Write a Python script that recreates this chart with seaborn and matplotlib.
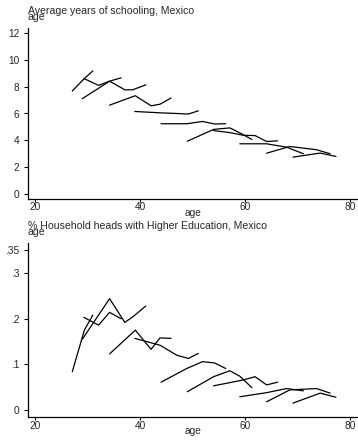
import matplotlib
matplotlib.use("Agg")
import matplotlib.pyplot as plt
import seaborn as sns
import pandas as pd

# Cohort profiles: mean age of each birth cohort at each survey and the outcome
cohort_ages = [
    [27.1, 29.4, 31.0],
    [29.3, 32.1, 34.2, 36.4],
    [29.0, 34.2, 37.1, 38.6, 41.1],
    [34.2, 39.1, 42.1, 43.8, 45.9],
    [39.0, 43.8, 47.0, 49.2, 51.1],
    [44.0, 48.9, 51.9, 54.2, 56.3],
    [49.0, 54.0, 57.1, 59.0, 61.3],
    [54.0, 57.1, 59.7, 61.9, 64.1, 66.2],
    [59.0, 64.1, 67.9, 71.1],
    [64.1, 68.5, 73.6, 76.2],
    [69.1, 74.3, 77.3],
]

schooling = [
    [7.67, 8.60, 9.16],
    [8.60, 8.09, 8.40, 8.65],
    [7.10, 8.40, 7.76, 7.76, 8.13],
    [6.62, 7.32, 6.57, 6.69, 7.15],
    [6.15, 6.05, 6.00, 5.96, 6.20],
    [5.24, 5.24, 5.41, 5.22, 5.24],
    [3.94, 4.82, 4.93, 4.56, 4.07],
    [4.73, 4.58, 4.38, 4.36, 3.92, 3.97],
    [3.75, 3.75, 3.50, 3.01],
    [3.05, 3.55, 3.31, 3.01],
    [2.76, 3.06, 2.81],
]

higher_ed = [
    [0.084, 0.175, 0.208],
    [0.203, 0.186, 0.214, 0.200],
    [0.155, 0.244, 0.192, 0.204, 0.228],
    [0.123, 0.175, 0.133, 0.158, 0.157],
    [0.157, 0.142, 0.120, 0.113, 0.124],
    [0.061, 0.091, 0.106, 0.103, 0.091],
    [0.040, 0.073, 0.086, 0.074, 0.049],
    [0.053, 0.060, 0.066, 0.073, 0.055, 0.061],
    [0.029, 0.038, 0.047, 0.042],
    [0.018, 0.044, 0.047, 0.037],
    [0.015, 0.037, 0.028],
]

x_ticks = [20, 40, 60, 80]
top_yticks = [0, 2, 4, 6, 8, 10, 12]
top_ylabels = ["0", "2", "4", "6", "8", "10", "12"]
bot_yticks = [0, 0.1, 0.2, 0.3, 0.35]
bot_ylabels = ["0", ".1", ".2", ".3", ".35"]

top_title = "Average years of schooling, Mexico"
bot_title = "% Household heads with Higher Education, Mexico"


def long_frame(values):
    rows = []
    for c, (ages, vals) in enumerate(zip(cohort_ages, values)):
        for a, v in zip(ages, vals):
            rows.append({"cohort": c, "age": a, "value": v})
    return pd.DataFrame(rows)


sns.set_style("white")
plt.rcParams["font.family"] = ["Liberation Sans", "DejaVu Sans"]

W, H = 358, 440
fig = plt.figure(figsize=(W / 100, H / 100), dpi=100)

def px_axes(left, top, right, bottom):
    return fig.add_axes([left / W, 1 - bottom / H, (right - left) / W, (bottom - top) / H])

AX_LEFT, AX_RIGHT = 27.5, 358
ax1 = px_axes(AX_LEFT, 28, AX_RIGHT, 199)
ax2 = px_axes(AX_LEFT, 243, AX_RIGHT, 417.3)

panels = [
    (ax1, schooling, top_yticks, top_ylabels, (-0.35, 12.35)),
    (ax2, higher_ed, bot_yticks, bot_ylabels, (-0.016, 0.366)),
]

for ax, vals, yt, yl, ylim in panels:
    df = long_frame(vals)
    sns.lineplot(data=df, x="age", y="value", units="cohort", estimator=None,
                 color="black", linewidth=0.9, sort=False, ax=ax, legend=False)
    ax.set_xlim(18.57, 81.5)
    ax.set_ylim(*ylim)
    ax.set_xticks(x_ticks)
    ax.set_xticklabels([str(t) for t in x_ticks])
    ax.set_yticks(yt)
    ax.set_yticklabels(yl)
    ax.set_xlabel("")
    ax.set_ylabel("")
    for s in ["top", "right"]:
        ax.spines[s].set_visible(False)
    for s in ["left", "bottom"]:
        ax.spines[s].set_color("black")
        ax.spines[s].set_linewidth(0.9)
    ax.tick_params(axis="y", direction="out", length=3, width=0.8,
                   color="black", labelsize=7.3, pad=3, left=True)
    ax.tick_params(axis="x", direction="out", length=2, width=0.8,
                   color="black", labelsize=7.3, pad=0.5, bottom=True)

mid_x = (AX_LEFT + AX_RIGHT) / 2 / W
# x-axis titles
fig.text(mid_x, 1 - 215.5 / H, "age", fontsize=7.3, ha="center", va="baseline")
fig.text(mid_x, 1 - 433.5 / H, "age", fontsize=7.3, ha="center", va="baseline")

# panel titles with the variable label just beneath
fig.text(AX_LEFT / W, 1 - 13.5 / H, top_title, fontsize=7.6, ha="left", va="baseline")
fig.text(AX_LEFT / W, 1 - 19.5 / H, "age", fontsize=7.6, ha="left", va="baseline")
fig.text(AX_LEFT / W, 1 - 228.5 / H, bot_title, fontsize=7.6, ha="left", va="baseline")
fig.text(AX_LEFT / W, 1 - 234.5 / H, "age", fontsize=7.6, ha="left", va="baseline")

fig.savefig("out.png", dpi=100, facecolor="white")
